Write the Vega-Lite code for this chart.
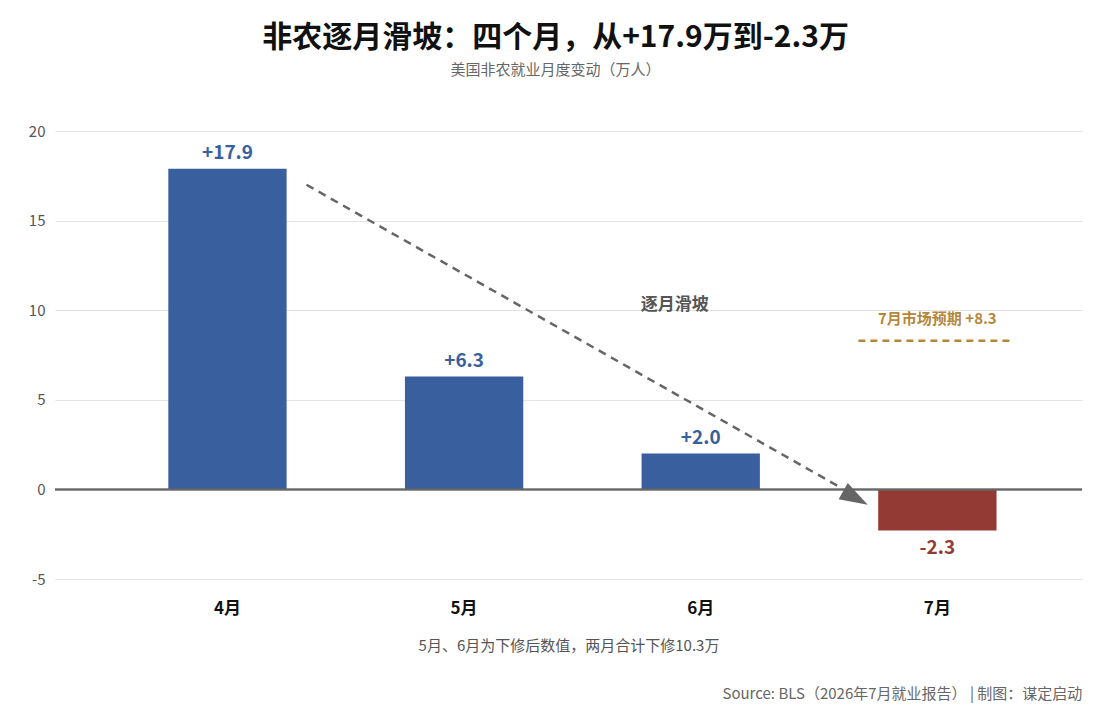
{
  "$schema": "https://vega.github.io/schema/vega-lite/v6.json",
  "autosize": {"type": "none"},
  "width": 1027,
  "height": 448,
  "padding": {"left": 55, "top": 131, "right": 26, "bottom": 147},
  "background": "white",
  "config": {"font": "Noto Sans CJK SC", "view": {"stroke": null}},
  "title": {
    "text": "非农逐月滑坡：四个月，从+17.9万到-2.3万",
    "subtitle": "美国非农就业月度变动（万人）",
    "fontSize": 30, "fontWeight": "bold", "color": "#111",
    "subtitleFontSize": 15, "subtitleColor": "#666", "subtitlePadding": 10,
    "anchor": "middle", "frame": "bounds", "offset": 46
  },
  "datasets": {
    "jobs": [
      {"month": "4月", "value": 17.9, "label": "+17.9", "kind": "pos"},
      {"month": "5月", "value": 6.3, "label": "+6.3", "kind": "pos"},
      {"month": "6月", "value": 2.0, "label": "+2.0", "kind": "pos"},
      {"month": "7月", "value": -2.3, "label": "-2.3", "kind": "neg"}
    ]
  },
  "data": {"name": "jobs"},
  "encoding": {
    "x": {
      "field": "month", "type": "nominal", "sort": null,
      "scale": {"paddingInner": 0.5, "paddingOuter": 0.42, "align": 0.57},
      "axis": {
        "title": "5月、6月为下修后数值，两月合计下修10.3万",
        "titleFontSize": 15, "titleFontWeight": "normal", "titleColor": "#555", "titlePadding": 22,
        "labelFontSize": 17, "labelFontWeight": "bold", "labelColor": "#111", "labelPadding": 21,
        "labelAngle": 0, "ticks": false, "domain": false
      }
    }
  },
  "layer": [
    {
      "mark": {"type": "bar"},
      "encoding": {
        "y": {
          "field": "value", "type": "quantitative",
          "scale": {"domain": [-5, 20], "nice": false},
          "axis": {
            "title": null, "values": [-5, 0, 5, 10, 15, 20], "labelFontSize": 15, "labelColor": "#555",
            "labelExpr": "replace(datum.label, '−', '-')",
            "labelPadding": 10, "ticks": false, "domain": false, "gridColor": "#e3e3e3"
          }
        },
        "color": {
          "field": "kind", "type": "nominal",
          "scale": {"domain": ["pos", "neg"], "range": ["#3A5F9F", "#923A33"]},
          "legend": null
        }
      }
    },
    {
      "mark": {"type": "rule", "color": "#666", "strokeWidth": 1.5},
      "encoding": {"x": null, "y": {"datum": 0}}
    },
    {
      "transform": [{"filter": "datum.kind == 'pos'"}],
      "mark": {"type": "text", "baseline": "bottom", "dy": -6, "fontSize": 19, "fontWeight": "bold", "color": "#3A5F9F"},
      "encoding": {"y": {"field": "value", "type": "quantitative"}, "text": {"field": "label"}}
    },
    {
      "transform": [{"filter": "datum.kind == 'neg'"}],
      "mark": {"type": "text", "baseline": "top", "dy": 8, "fontSize": 19, "fontWeight": "bold", "color": "#923A33"},
      "encoding": {"y": {"field": "value", "type": "quantitative"}, "text": {"field": "label"}}
    },
    {
      "data": {"values": [{"a": "4月", "b": "7月", "y1": 17.0, "y2": 0.05}]},
      "mark": {"type": "rule", "color": "#666", "strokeWidth": 2.5, "strokeDash": [8, 6], "xOffset": 79, "x2Offset": -95},
      "encoding": {
        "x": {"field": "a", "type": "nominal"},
        "x2": {"field": "b"},
        "y": {"field": "y1", "type": "quantitative"},
        "y2": {"field": "y2"}
      }
    },
    {
      "data": {"values": [{"m": "7月", "y": -0.35}]},
      "mark": {"type": "point", "shape": "M0.875,0.485L-0.68,0.195L-0.195,-0.68Z", "filled": true, "size": 1400, "color": "#666", "opacity": 1, "xOffset": -86},
      "encoding": {
        "x": {"field": "m", "type": "nominal"},
        "y": {"field": "y", "type": "quantitative"}
      }
    },
    {
      "data": {"values": [{"m": "6月", "y": 10.3, "t": "逐月滑坡"}]},
      "mark": {"type": "text", "fontSize": 17, "fontWeight": "bold", "color": "#555", "xOffset": -26},
      "encoding": {
        "x": {"field": "m", "type": "nominal"},
        "y": {"field": "y", "type": "quantitative"},
        "text": {"field": "t"}
      }
    },
    {
      "data": {"values": [{"m": "7月", "y": 8.3}]},
      "mark": {"type": "rule", "color": "#B5873A", "strokeWidth": 2.5, "strokeDash": [7, 5], "xOffset": -79, "x2Offset": 75},
      "encoding": {
        "x": {"field": "m", "type": "nominal"},
        "x2": {"field": "m"},
        "y": {"field": "y", "type": "quantitative"}
      }
    },
    {
      "data": {"values": [{"m": "7月", "y": 9.5, "t": "7月市场预期 +8.3"}]},
      "mark": {"type": "text", "fontSize": 15, "fontWeight": "bold", "color": "#B5873A"},
      "encoding": {
        "x": {"field": "m", "type": "nominal"},
        "y": {"field": "y", "type": "quantitative"},
        "text": {"field": "t"}
      }
    },
    {
      "data": {"values": [{"m": "7月", "y": -11.4, "t": "Source: BLS（2026年7月就业报告） | 制图：谋定启动"}]},
      "mark": {"type": "text", "fontSize": 15, "color": "#666", "align": "right", "xOffset": 145, "clip": false},
      "encoding": {
        "x": {"field": "m", "type": "nominal"},
        "y": {"field": "y", "type": "quantitative"},
        "text": {"field": "t"}
      }
    }
  ]
}
